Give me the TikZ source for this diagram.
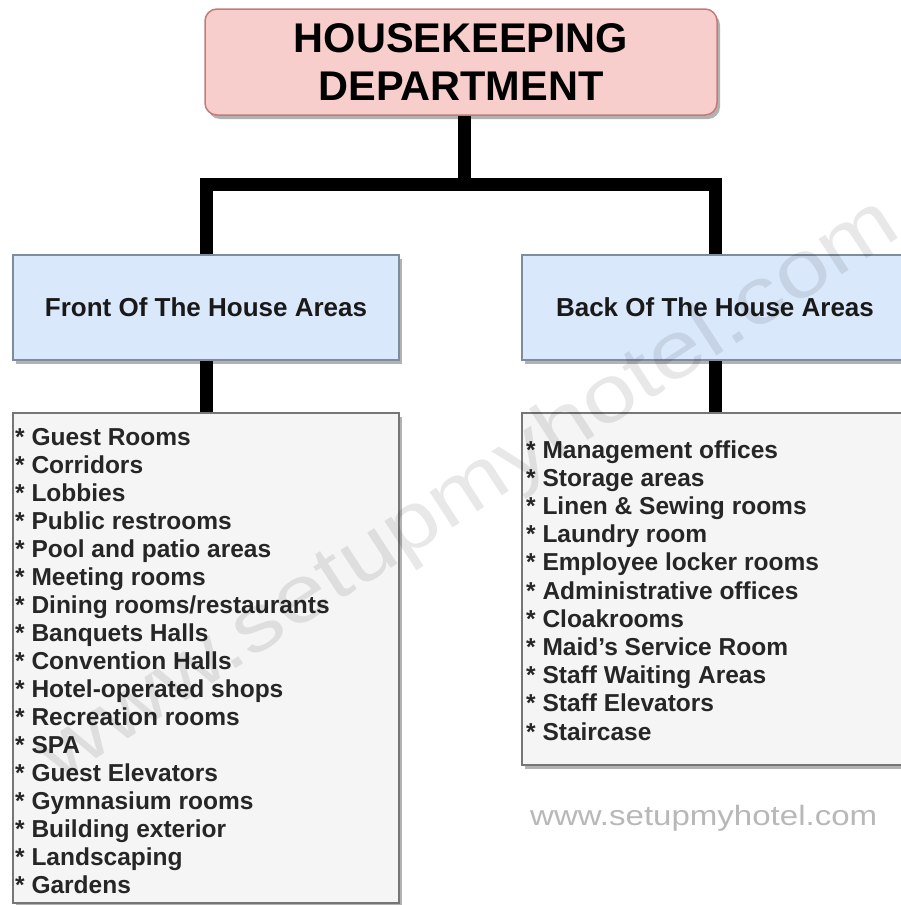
\documentclass[tikz,border=0pt]{standalone}
\usepackage{fontspec}
\setmainfont{Liberation Sans}
\usetikzlibrary{shadows,backgrounds}
\definecolor{pinkfill}{HTML}{F8CECC}
\definecolor{pinkline}{HTML}{C27B78}
\definecolor{bluefill}{HTML}{DAE8FC}
\definecolor{blueline}{HTML}{7F8C9C}
\definecolor{listfill}{HTML}{F5F5F5}
\definecolor{listline}{HTML}{767676}
\definecolor{itemtxt}{HTML}{262626}
\definecolor{urlgray}{HTML}{B8B8B8}
\begin{document}
\begin{tikzpicture}[x=1pt,y=-1pt,
  boxshadow/.style={drop shadow={shadow xshift=3pt,shadow yshift=-4pt,opacity=0.3,fill=black}},
  titlebox/.style={draw=pinkline,fill=pinkfill,line width=1.5pt,rounded corners=12pt,
    minimum width=512pt,minimum height=106pt,inner sep=0pt,align=center,
    font=\bfseries\fontsize{41.5}{48}\selectfont,boxshadow},
  areabox/.style={draw=blueline,fill=bluefill,line width=1.5pt,minimum width=386pt,
    minimum height=105pt,inner sep=0pt,font=\bfseries\fontsize{26}{30}\selectfont,
    text=black!90,boxshadow},
  listbox/.style={draw=listline,fill=listfill,line width=1.5pt,minimum width=386pt,
    inner sep=0pt,boxshadow},
  item/.style={anchor=base west,inner sep=0pt,font=\bfseries\fontsize{24.5}{28}\selectfont,text=itemtxt},
  conn/.style={line width=13pt,line join=miter,line cap=butt,draw=black},
]
\useasboundingbox (0,0) rectangle (901,905);

\node[titlebox] (top) at (461,62) {HOUSEKEEPING\\DEPARTMENT};
\node[areabox] (front) at (206,307.5) {Front Of The House Areas};
\node[areabox] (back) at (715,307.5) {Back Of The House Areas};
\node[listbox,minimum height=490pt] (flist) at (206,658) {};
\node[listbox,minimum height=352pt] (blist) at (715,589) {};

\coordinate (jc) at (464,184);
\coordinate (jl) at (206,184);
\coordinate (jr) at (715,184);
\begin{scope}[on background layer]
\fill[white] (0,0) rectangle (901,905);
\draw[conn] (top.south -| jc) -- (jc);
\draw[conn] (front.north) -- (jl) -- (jr) -- (back.north);
\draw[conn] (front.south) -- (flist.north);
\draw[conn] (back.south) -- (blist.north);
\end{scope}

\foreach [count=\i from 0] \t in {Guest Rooms,Corridors,Lobbies,Public restrooms,
  Pool and patio areas,Meeting rooms,Dining rooms/restaurants,Banquets Halls,
  Convention Halls,Hotel-operated shops,Recreation rooms,SPA,Guest Elevators,
  Gymnasium rooms,Building exterior,Landscaping,Gardens}
  \node[item] (f\i) at (15,445+28*\i) {* \t};

\foreach [count=\i from 0] \t in {Management offices,Storage areas,
  {Linen \& Sewing rooms},Laundry room,Employee locker rooms,
  Administrative offices,Cloakrooms,Maid’s Service Room,Staff Waiting Areas,
  Staff Elevators,Staircase}
  \node[item] (b\i) at (526,458+28.2*\i) {* \t};

\node[anchor=base west,inner sep=0pt,text=urlgray,font=\fontsize{28}{30}\selectfont]
  (url) at (530,825) {\scalebox{1.18}[1]{www.setupmyhotel.com}};

\node[rotate=33,inner sep=0pt,text=black,opacity=0.09,font=\fontsize{80}{82}\selectfont]
  (wm) at (470,492) {\scalebox{1.2}[1]{www.setupmyhotel.com}};
\end{tikzpicture}
\end{document}
